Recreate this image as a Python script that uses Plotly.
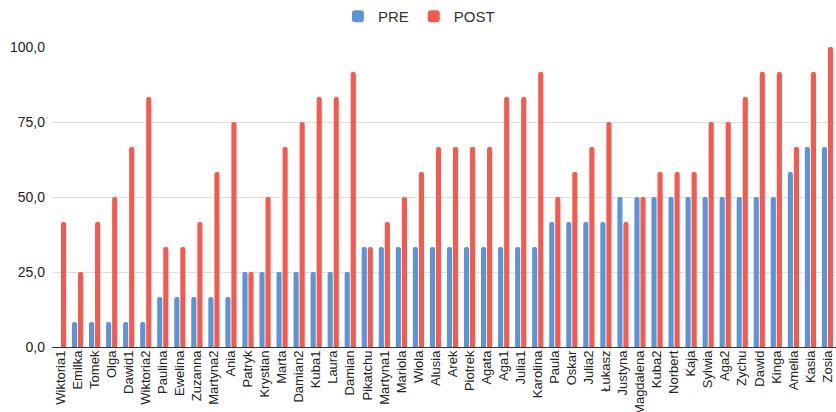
import plotly.graph_objects as go

names = ["Wiktoria1", "Emilka", "Tomek", "Olga", "Dawid1", "Wiktoria2", "Paulina", "Ewelina",
         "Zuzanna", "Martyna2", "Ania", "Patryk", "Krystian", "Marta", "Damian2", "Kuba1",
         "Laura", "Damian", "Pikatchu", "Martyna1", "Mariola", "Wiola", "Alusia", "Arek",
         "Piotrek", "Agata", "Aga1", "Julia1", "Karolina", "Paula", "Oskar", "Julia2",
         "Łukasz", "Justyna", "Magdalena", "Kuba2", "Norbert", "Kaja", "Sylwia", "Aga2",
         "Zychu", "Dawid", "Kinga", "Amelia", "Kasia", "Zosia"]

pre = [0, 8.3, 8.3, 8.3, 8.3, 8.3, 16.7, 16.7,
       16.7, 16.7, 16.7, 25, 25, 25, 25, 25,
       25, 25, 33.3, 33.3, 33.3, 33.3, 33.3, 33.3,
       33.3, 33.3, 33.3, 33.3, 33.3, 41.7, 41.7, 41.7,
       41.7, 50, 50, 50, 50, 50, 50, 50,
       50, 50, 50, 58.3, 66.7, 66.7]

post = [41.7, 25, 41.7, 50, 66.7, 83.3, 33.3, 33.3,
        41.7, 58.3, 75, 25, 50, 66.7, 75, 83.3,
        83.3, 91.7, 33.3, 41.7, 50, 58.3, 66.7, 66.7,
        66.7, 66.7, 83.3, 83.3, 91.7, 50, 58.3, 66.7,
        75, 41.7, 50, 58.3, 58.3, 58.3, 75, 75,
        83.3, 91.7, 91.7, 66.7, 91.7, 100]

y_ticks = [0, 25, 50, 75, 100]
y_tick_text = ["0,0", "25,0", "50,0", "75,0", "100,0"]

BLUE = "#5b95d5"
RED = "#f45a4e"

fig = go.Figure()
fig.add_trace(go.Bar(x=names, y=pre, name="PRE", marker=dict(color=BLUE, line_width=0)))
fig.add_trace(go.Bar(x=names, y=post, name="POST", marker=dict(color=RED, line_width=0)))

fig.update_layout(
    width=836, height=412,
    margin=dict(l=52, r=0, t=47, b=65),
    paper_bgcolor="white", plot_bgcolor="white",
    font=dict(family="Liberation Sans, Arial, sans-serif", color="#222222"),
    barmode="group",
    bargap=0.29,
    bargroupgap=0.15,
    barcornerradius=3,
    showlegend=True,
    legend=dict(orientation="h", x=0.468, xanchor="center", y=1.103, yanchor="middle",
                font=dict(size=15, color="#333333"), itemwidth=30,
                bgcolor="rgba(0,0,0,0)"),
    xaxis=dict(
        type="category", tickangle=-90, tickfont=dict(size=13, color="#222222"),
        showgrid=False, showline=False, ticks="", automargin=False,
    ),
    yaxis=dict(
        range=[0, 100], tickvals=y_ticks, ticktext=y_tick_text,
        tickfont=dict(size=14, color="#222222"),
        showgrid=True, gridcolor="#dddddd", gridwidth=1,
        zeroline=True, zerolinecolor="#333333", zerolinewidth=1,
        ticks="", ticklabelstandoff=6, automargin=False,
    ),
)

fig.write_html("out.html")
